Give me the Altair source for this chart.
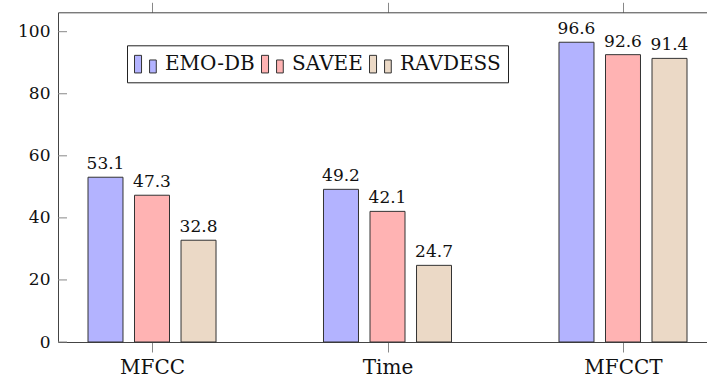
import json
import altair as alt
import pandas as pd

# Grouped bar data: accuracy (%) per feature set and dataset
categories = ["MFCC", "Time", "MFCCT"]
series = ["EMO-DB", "SAVEE", "RAVDESS"]
emo_db = [53.1, 49.2, 96.6]
savee = [47.3, 42.1, 92.6]
ravdess = [32.8, 24.7, 91.4]
y_ticks = [0, 20, 40, 60, 80, 100]
colors = ["#b3b3ff", "#ffb3b3", "#ebd9c6"]

FONT = "DejaVu Serif"
W, H = 649, 329.7
BAR_SHIFT = 0.1975   # offset of neighbouring bars, in group units
BAR_HALF = 0.0743    # half bar width, in group units

rows = []
for si, (name, vals) in enumerate(zip(series, [emo_db, savee, ravdess])):
    for gi, v in enumerate(vals):
        xc = gi + (si - 1) * BAR_SHIFT
        rows.append({"series": name, "value": v, "xc": xc,
                     "x0": xc - BAR_HALF, "x1": xc + BAR_HALF})
df = pd.DataFrame(rows)
ticks_df = pd.DataFrame({"tick": y_ticks})

xscale = alt.Scale(domain=[-0.3992, 2.3567], nice=False, zero=False)
yscale = alt.Scale(domain=[0, 106.25], nice=False, padding=0)
yaxis = alt.Axis(values=y_ticks, title=None, grid=False, ticks=False,
                 domainColor="#444", domainWidth=1, labelFont=FONT,
                 labelFontSize=17, labelColor="#111", labelPadding=8)

label_expr = json.dumps(categories) + "[datum.value]"
bottom_axis = alt.Axis(values=[0, 1, 2], labelExpr=label_expr, title=None,
                       grid=False, tickSize=10, tickColor="#888",
                       domainColor="#444", domainWidth=1, labelFont=FONT,
                       labelFontSize=20, labelColor="#111", labelPadding=5)
top_axis = alt.Axis(values=[0, 1, 2], orient="top", labels=False, title=None,
                    grid=False, tickSize=10, tickColor="#888",
                    domainColor="#444", domainWidth=1)

# two small bars side by side, as in a ybar legend entry
legend_icon = "M-1,-0.8H-0.36V0.8H-1Z M0.37,-0.38H0.98V0.8H0.37Z"

bars = alt.Chart(df).mark_bar(stroke="#333", strokeWidth=1).encode(
    x=alt.X("x0:Q", scale=xscale, axis=bottom_axis),
    x2="x1:Q",
    y=alt.Y("value:Q", scale=yscale, axis=yaxis),
    y2=alt.datum(0),
    fill=alt.Fill("series:N", scale=alt.Scale(domain=series, range=colors),
                  legend=alt.Legend(
                      title=None, orient="none", legendX=69, legendY=33,
                      direction="horizontal", symbolType=legend_icon,
                      symbolSize=484, symbolStrokeColor="#333",
                      symbolStrokeWidth=1, labelFont=FONT, labelFontSize=20,
                      labelColor="#111", labelOffset=8, columnPadding=4,
                      padding=7, strokeColor="#222", fillColor="white",
                      cornerRadius=0)),
)

labels = alt.Chart(df).mark_text(font=FONT, fontSize=17,
                                 baseline="alphabetic", dy=-8,
                                 color="#111").encode(
    x=alt.X("xc:Q", scale=xscale, axis=top_axis),
    y=alt.Y("value:Q", scale=yscale, axis=yaxis),
    text=alt.Text("value:Q", format=".1f"),
)

inner_ticks = alt.Chart(ticks_df).mark_rule(color="#888", strokeWidth=1).encode(
    y=alt.Y("tick:Q", scale=yscale, axis=yaxis),
    x=alt.value(0),
    x2=alt.value(9),
)

chart = alt.layer(bars, labels, inner_ticks).resolve_axis(
    x="independent"
).properties(
    width=W, height=H,
    autosize=alt.AutoSizeParams(type="none"),
    padding={"left": 58, "top": 12.3, "right": 0, "bottom": 37},
).configure_view(stroke=None)

chart.save("out.html", embed_options={"renderer": "svg", "actions": False})
